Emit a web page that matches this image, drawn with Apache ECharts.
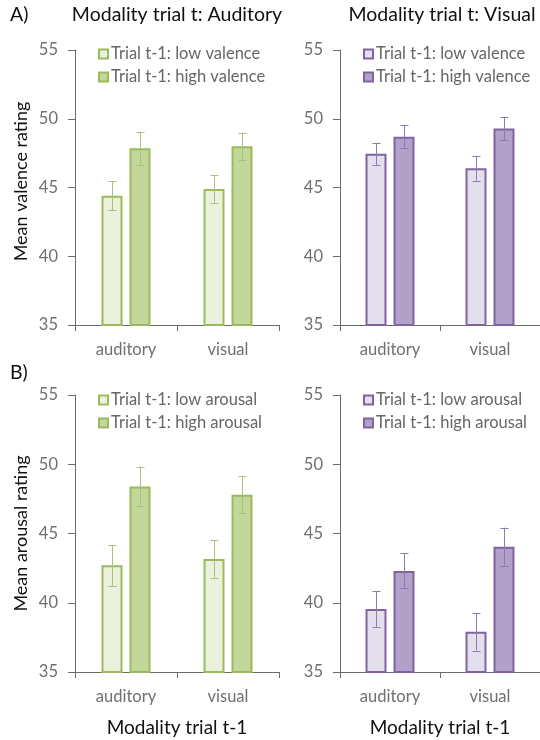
<!DOCTYPE html>
<html>
<head>
<meta charset="utf-8">
<script src="https://cdn.jsdelivr.net/npm/echarts@6/dist/echarts.min.js"></script>
<style>
html,body{margin:0;padding:0;background:#fff;}
#chart{width:540px;height:740px;}
</style>
</head>
<body>
<div id="chart"></div>
<script>
// ---- data ----
const categories = ['auditory', 'visual'];
const yTicks = [35, 40, 45, 50, 55];

// A) valence, modality trial t: auditory
const valAudLow = [44.4, 44.9];
const valAudLowErr = [1.05, 1.0];
const valAudHigh = [47.85, 48.0];
const valAudHighErr = [1.19, 1.0];
// A) valence, modality trial t: visual
const valVisLow = [47.45, 46.4];
const valVisLowErr = [0.8, 0.9];
const valVisHigh = [48.7, 49.3];
const valVisHighErr = [0.85, 0.84];
// B) arousal, modality trial t: auditory
const aroAudLow = [42.7, 43.15];
const aroAudLowErr = [1.47, 1.35];
const aroAudHigh = [48.4, 47.8];
const aroAudHighErr = [1.42, 1.35];
// B) arousal, modality trial t: visual
const aroVisLow = [39.55, 37.9];
const aroVisLowErr = [1.28, 1.35];
const aroVisHigh = [42.3, 44.05];
const aroVisHighErr = [1.27, 1.37];

const panelTitles = ['Modality trial t: Auditory', 'Modality trial t: Visual'];
const legendValence = ['Trial t-1: low valence', 'Trial t-1: high valence'];
const legendArousal = ['Trial t-1: low arousal', 'Trial t-1: high arousal'];

// ---- styles ----
const FONT = 'Lato';
const green = {border: '#9BBB59', low: '#EBF1DE', high: '#C3D69B', err: '#A9C27A'};
const purple = {border: '#8064A2', low: '#E4DFEC', high: '#B1A0C7', err: '#8E7AAE'};
const BAR_W = 21, GAP_PX = 7;
const OFFSET = (BAR_W + GAP_PX) / 2;

const grids = [
  {left: 75, top: 50, width: 204, height: 275},
  {left: 340, top: 50, width: 203, height: 275},
  {left: 75, top: 395, width: 204, height: 277},
  {left: 340, top: 395, width: 203, height: 277}
];

const axisColor = '#6b6b6b';
const labelColor = '#6f6f6f';

const xAxes = grids.map((g, i) => ({
  type: 'category', gridIndex: i, data: categories,
  axisLine: {lineStyle: {color: axisColor, width: 1}},
  axisTick: {show: true, length: 6, alignWithLabel: false, lineStyle: {color: axisColor}},
  axisLabel: {color: labelColor, fontFamily: FONT, fontSize: 16.5, margin: 16},
  name: i >= 2 ? 'Modality trial t-1' : '',
  nameLocation: 'middle', nameGap: 46,
  nameTextStyle: {color: '#111', fontFamily: FONT, fontSize: 19}
}));

const yAxes = grids.map((g, i) => ({
  type: 'value', gridIndex: i, min: yTicks[0], max: yTicks[yTicks.length - 1], interval: 5,
  axisLine: {show: true, lineStyle: {color: axisColor, width: 1}},
  axisTick: {show: true, length: 7, lineStyle: {color: axisColor}},
  splitLine: {show: false},
  axisLabel: {color: labelColor, fontFamily: FONT, fontSize: 16.5, margin: 17},
  name: i === 0 ? 'Mean valence rating' : (i === 2 ? 'Mean arousal rating' : ''),
  nameLocation: 'middle', nameRotate: 90, nameGap: 45,
  nameTextStyle: {color: '#111', fontFamily: FONT, fontSize: 18,
    padding: i === 0 ? [0, 0, 0, 12] : [0, 0, 0, 0]}
}));

function barSeries(name, values, gi, fill, border) {
  return {
    type: 'bar', name: name, xAxisIndex: gi, yAxisIndex: gi,
    data: values, barWidth: BAR_W, barGap: (GAP_PX / BAR_W * 100) + '%',
    itemStyle: {color: fill, borderColor: border, borderWidth: 2},
    emphasis: {disabled: true}, z: 2
  };
}

function errSeries(values, errs, gi, side, color) {
  return {
    type: 'custom', xAxisIndex: gi, yAxisIndex: gi, z: 5, silent: true,
    data: values.map((v, k) => [k, v - errs[k], v + errs[k]]),
    encode: {x: 0, y: [1, 2]},
    renderItem: function (params, api) {
      const lo = api.coord([api.value(0), api.value(1)]);
      const hi = api.coord([api.value(0), api.value(2)]);
      const x = Math.round(lo[0] + side * OFFSET) + 0.5;
      const cap = 4;
      const st = {stroke: color, lineWidth: 1};
      return {
        type: 'group', children: [
          {type: 'line', shape: {x1: x, y1: hi[1], x2: x, y2: lo[1]}, style: st},
          {type: 'line', shape: {x1: x - cap, y1: Math.round(hi[1]) + 0.5, x2: x + cap, y2: Math.round(hi[1]) + 0.5}, style: st},
          {type: 'line', shape: {x1: x - cap, y1: Math.round(lo[1]) + 0.5, x2: x + cap, y2: Math.round(lo[1]) + 0.5}, style: st}
        ]
      };
    }
  };
}

const panels = [
  {gi: 0, pal: green, low: valAudLow, lowE: valAudLowErr, high: valAudHigh, highE: valAudHighErr, names: legendValence},
  {gi: 1, pal: purple, low: valVisLow, lowE: valVisLowErr, high: valVisHigh, highE: valVisHighErr, names: legendValence},
  {gi: 2, pal: green, low: aroAudLow, lowE: aroAudLowErr, high: aroAudHigh, highE: aroAudHighErr, names: legendArousal},
  {gi: 3, pal: purple, low: aroVisLow, lowE: aroVisLowErr, high: aroVisHigh, highE: aroVisHighErr, names: legendArousal}
];

const series = [];
const legends = [];
panels.forEach(p => {
  series.push(barSeries(p.names[0], p.low, p.gi, p.pal.low, p.pal.border));
  series.push(barSeries(p.names[1], p.high, p.gi, p.pal.high, p.pal.border));
  series.push(errSeries(p.low, p.lowE, p.gi, -1, p.pal.err));
  series.push(errSeries(p.high, p.highE, p.gi, 1, p.pal.err));
  const g = grids[p.gi];
  legends.push({
    left: g.left + 23, top: g.top - 5 + (p.gi >= 2 ? 1 : 0), orient: 'vertical', itemGap: 5, padding: 0,
    itemWidth: 9, itemHeight: 9, icon: 'rect', selectedMode: false,
    textStyle: {color: '#666', fontFamily: FONT, fontSize: 16.5, lineHeight: 18, padding: [0, 0, 0, -2]},
    data: [
      {name: p.names[0], itemStyle: {color: p.pal.low, borderColor: p.pal.border, borderWidth: 2}},
      {name: p.names[1], itemStyle: {color: p.pal.high, borderColor: p.pal.border, borderWidth: 2}}
    ]
  });
});

const titles = [
  {text: 'A)', left: 10, top: 5},
  {text: 'B)', left: 10, top: 363},
  {text: panelTitles[0], left: 177, top: 5, textAlign: 'center'},
  {text: panelTitles[1], left: 442, top: 5, textAlign: 'center'}
].map(t => Object.assign({padding: 0, textStyle: {color: '#111', fontFamily: FONT, fontSize: 19.5, fontWeight: 'normal'}}, t));

const chart = echarts.init(document.getElementById('chart'), null, {renderer: 'canvas'});
chart.setOption({
  backgroundColor: '#fff',
  animation: false,
  title: titles,
  legend: legends,
  grid: grids,
  xAxis: xAxes,
  yAxis: yAxes,
  series: series
});
</script>
</body>
</html>
